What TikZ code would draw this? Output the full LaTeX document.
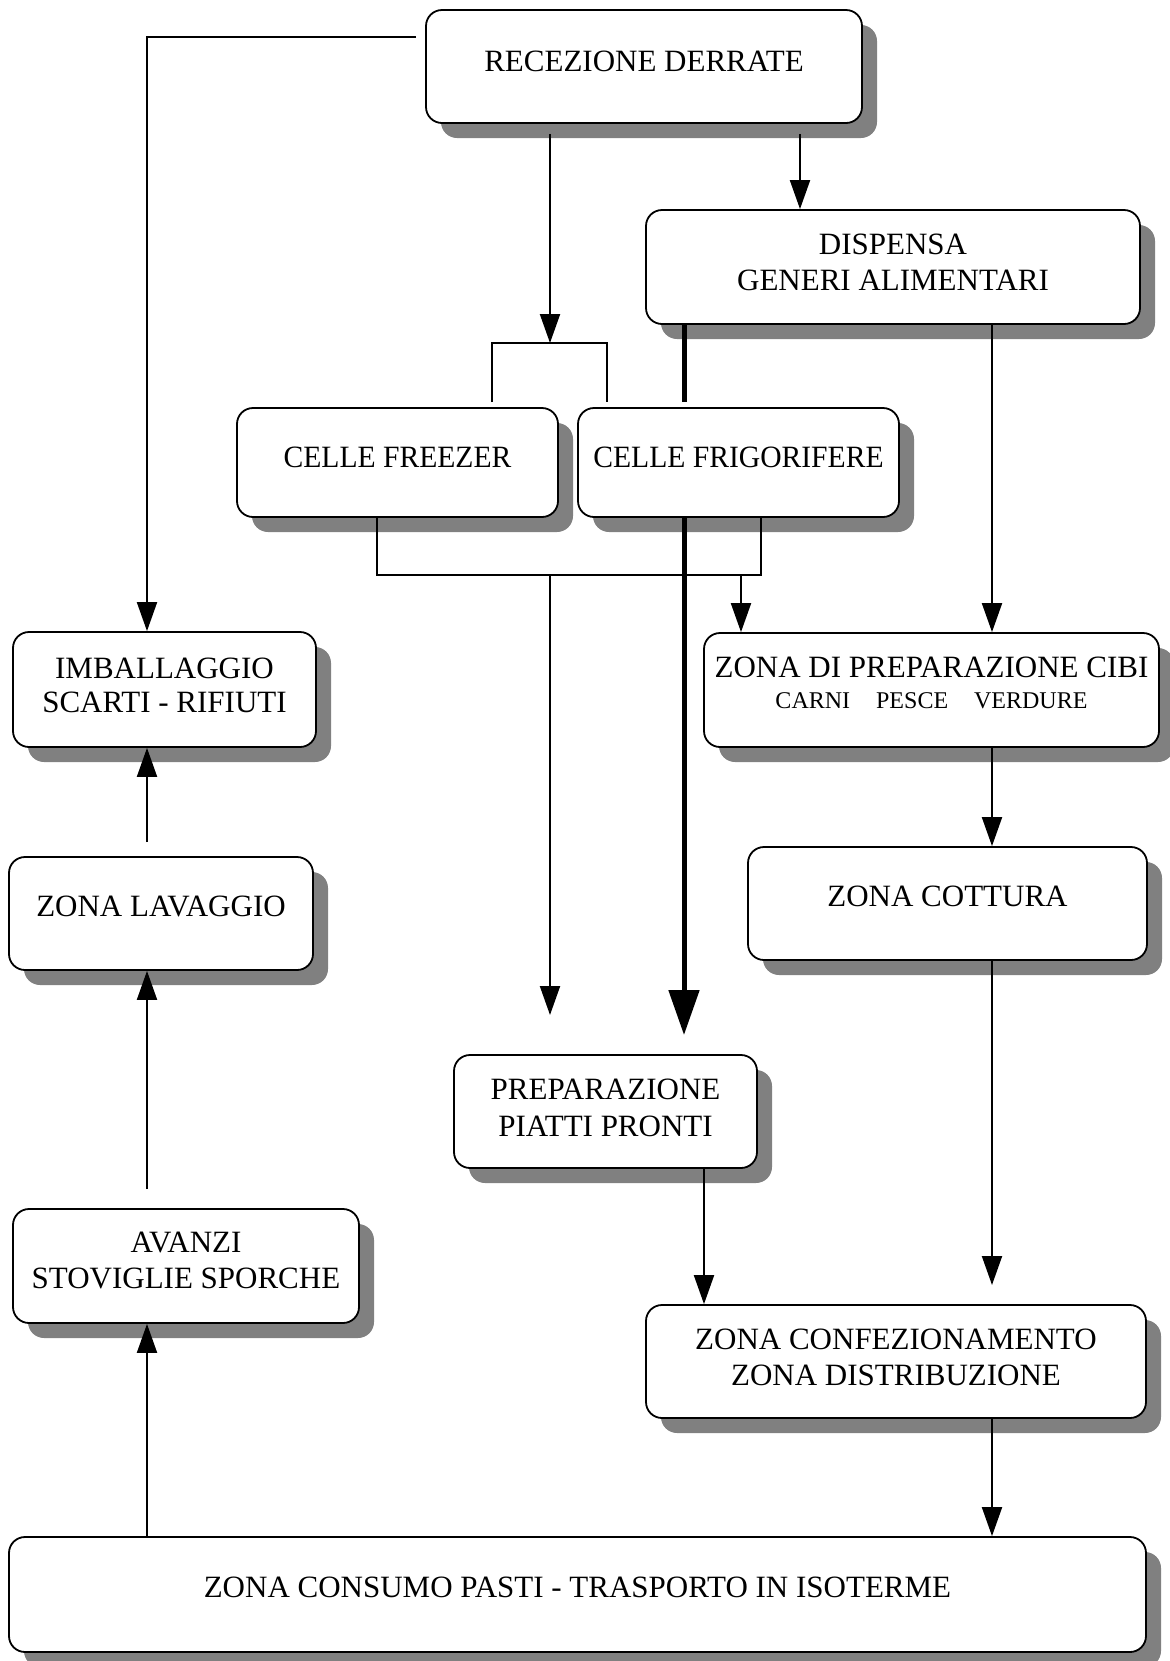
\documentclass[tikz,border=0pt]{standalone}
\usepackage{fontspec}
\setmainfont{Liberation Serif}
\newfontfamily\narrowserif[FakeStretch=0.955]{Liberation Serif}
\usetikzlibrary{arrows.meta,fit,shadows,calc}
\begin{document}
\begin{tikzpicture}[x=0.5pt,y=-0.5pt,
  box/.style={draw, line width=0.9pt, rounded corners=8pt, fill=white, inner sep=0pt,
    drop shadow={shadow xshift=7.5pt, shadow yshift=-7.5pt, fill=black!50, opacity=1}},
  lbl/.style={anchor=base, inner sep=0pt, font=\fontsize{15.5pt}{18pt}\selectfont},
  nlbl/.style={anchor=base, inner sep=0pt, font=\narrowserif\fontsize{15.5pt}{18pt}\selectfont},
  sml/.style={anchor=base, inner sep=0pt, font=\fontsize{12pt}{14pt}\selectfont},
  ln/.style={line width=1pt},
  arr/.style={line width=1pt, -{Triangle[length=14.5pt,width=10pt]}},
  heavy/.style={line width=2.5pt},
  heavyarr/.style={line width=2.5pt, -{Triangle[length=22.5pt,width=15pt]}}
]
\useasboundingbox (0,0) rectangle (1169,1661);

% boxes
\node[box, fit={(426,10) (862,123)}] (rec) {};
\node[box, fit={(646,210) (1140,324)}] (disp) {};
\node[box, fit={(237,408) (558,517)}] (freez) {};
\node[box, fit={(578,408) (899,517)}] (frig) {};
\node[box, fit={(704,633) (1159,747)}] (prep) {};
\node[box, fit={(13,632) (316,747)}] (imb) {};
\node[box, fit={(9,857) (313,970)}] (lav) {};
\node[box, fit={(748,847) (1147,960)}] (cott) {};
\node[box, fit={(454,1055) (757,1168)}] (piatti) {};
\node[box, fit={(646,1305) (1146,1418)}] (conf) {};
\node[box, fit={(13,1209) (359,1323)}] (avan) {};
\node[box, fit={(9,1537) (1146,1652)}] (cons) {};

% texts
\node[lbl] (trec) at ($(rec.north)+(0,62)$) {RECEZIONE DERRATE};
\node[lbl] (tdispa) at ($(disp.north)+(0,45)$) {DISPENSA};
\node[lbl] (tdispb) at ($(disp.north)+(0,81)$) {GENERI ALIMENTARI};
\node[nlbl] (tfreez) at ($(freez.north)+(0,60)$) {CELLE FREEZER};
\node[nlbl] (tfrig) at ($(frig.north)+(0,60)$) {CELLE FRIGORIFERE};
\node[lbl] (tprepa) at ($(prep.north)+(0,45)$) {ZONA DI PREPARAZIONE CIBI};
\node[sml] (tprepb) at ($(prep.north)+(0,76)$) {CARNI\hspace{13pt}PESCE\hspace{13pt}VERDURE};
\node[lbl] (timba) at ($(imb.north)+(0,47)$) {IMBALLAGGIO};
\node[lbl] (timbb) at ($(imb.north)+(0,81)$) {SCARTI - RIFIUTI};
\node[lbl] (tlav) at ($(lav.north)+(0,60)$) {ZONA LAVAGGIO};
\node[lbl] (tcott) at ($(cott.north)+(0,60)$) {ZONA COTTURA};
\node[lbl] (tpiattia) at ($(piatti.north)+(0,45)$) {PREPARAZIONE};
\node[lbl] (tpiattib) at ($(piatti.north)+(0,82)$) {PIATTI PRONTI};
\node[lbl] (tconfa) at ($(conf.north)+(0,45)$) {ZONA CONFEZIONAMENTO};
\node[lbl] (tconfb) at ($(conf.north)+(0,81)$) {ZONA DISTRIBUZIONE};
\node[lbl] (tavana) at ($(avan.north)+(0,44)$) {AVANZI};
\node[lbl] (tavanb) at ($(avan.north)+(0,80)$) {STOVIGLIE SPORCHE};
\node[lbl] (tcons) at ($(cons.north)+(0,61)$) {ZONA CONSUMO PASTI - TRASPORTO IN ISOTERME};

% helper coordinates
\coordinate (xL) at (147,0);
\coordinate (xA) at (550,0);
\coordinate (xB) at (800,0);
\coordinate (xT) at (684,0);
\coordinate (xF) at (377,0);
\coordinate (xG) at (761,0);
\coordinate (xH) at (741,0);
\coordinate (xR) at (992,0);
\coordinate (xP) at (704,0);
\coordinate (hy) at (0,575);
\coordinate (r0) at (416,37);
\coordinate (bL) at (492,402);
\coordinate (bR) at (607,402);
\coordinate (bT) at (550,343);
\coordinate (tk) at (684,402);
\coordinate (tip) at (684,1035);
\coordinate (pt) at (550,1015);
\coordinate (ct) at (992,1285);

% connectors
\draw[arr] (r0) -| (imb.north -| xL);
\draw[arr] ($(rec.south -| xA)+(0,10)$) -- (bT);
\draw[ln] (bL) |- (bT) -| (bR);
\draw[arr] ($(rec.south -| xB)+(0,10)$) -- (disp.north -| xB);
\draw[heavy] (disp.south -| xT) -- (tk);
\draw[heavyarr] (frig.south -| xT) -- (tip);
\draw[ln] (freez.south -| xF) -- (xF |- hy) -- (xG |- hy) -- (frig.south -| xG);
\draw[arr] (xH |- hy) -- (prep.north -| xH);
\draw[arr] (xA |- hy) -- (pt);
\draw[arr] (disp.south -| xR) -- (prep.north -| xR);
\draw[arr] (prep.south -| xR) -- (cott.north -| xR);
\draw[arr] (cott.south -| xR) -- (ct);
\draw[arr] (piatti.south -| xP) -- (conf.north -| xP);
\draw[arr] (conf.south -| xR) -- (cons.north -| xR);
\draw[arr] (cons.north -| xL) -- (avan.south -| xL);
\draw[arr] ($(avan.north -| xL)+(0,-19)$) -- (lav.south -| xL);
\draw[arr] ($(lav.north -| xL)+(0,-14)$) -- (imb.south -| xL);
\end{tikzpicture}
\end{document}
